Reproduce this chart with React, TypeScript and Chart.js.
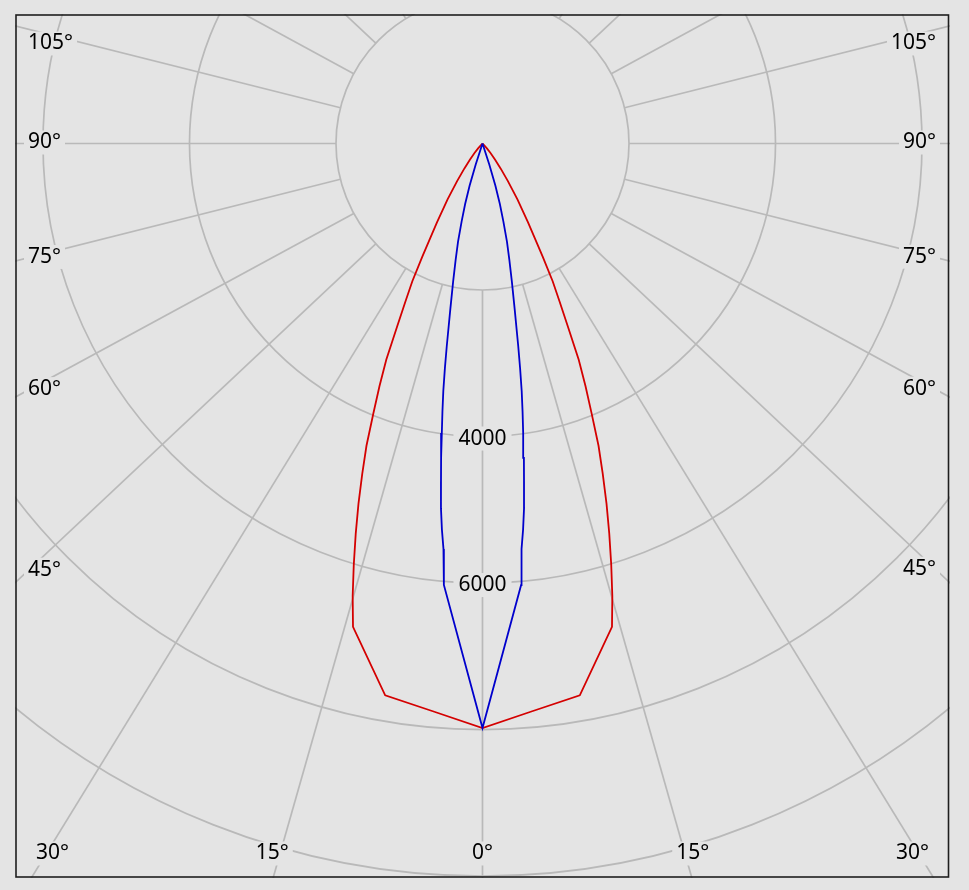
import React, { useEffect, useRef } from "react"
import { Chart, registerables } from "chart.js"

Chart.register(...registerables)

// gamma angle (deg) and intensity (cd) for one half of each symmetric curve
const redAngles = [0, 5, 10, 15, 16, 17, 18, 19, 20, 21, 22, 23, 24, 25, 26, 27, 28, 29, 30, 32, 34, 36, 38, 40, 42, 44, 46]
const redValues = [7980, 7780, 7650, 6830, 6430, 6010, 5600, 5200, 4800, 4420, 3980, 3600, 3230, 2760, 2400, 2110, 1750, 1460, 1240, 900, 620, 420, 280, 170, 90, 30, 0]

const blueAngles = [0, 5, 5.5, 6, 6.5, 7, 7.5, 8, 8.5, 9, 9.5, 10, 11, 12, 13, 14, 15, 16, 17, 18, 19]
const blueValues = [7980, 6050, 5560, 5300, 5010, 4650, 4330, 3990, 3700, 3420, 3110, 2810, 2300, 1930, 1630, 1380, 1100, 860, 600, 300, 0]

const ringValues = [2000, 4000, 6000, 8000, 10000]
const ringLabels = [4000, 6000]
const spokeAngles = [0, 15, 30, 45, 60, 75, 90, 105, 120, 135, 150, 165, 180, 195, 210, 225, 240, 255, 270, 285, 300, 315, 330, 345]
const angleLabels = [0, 15, 30, 45, 60, 75, 90, 105]

const BG = "#e4e4e4"
const GRID = "#b9b9b9"
const TEXT = "#000000"
const RED = "#d40000"
const BLUE = "#0000cc"
const FONT = '21px "Noto Sans", "DejaVu Sans", sans-serif'
// the spokes of the original grid are drawn slightly widened horizontally
const SPOKE_STRETCH = 1.064

const rad = (d: number) => (d * Math.PI) / 180

const toPoints = (angles: number[], values: number[]) => {
  const side = (s: number) =>
    angles.map((g, i) => ({ x: s * values[i] * Math.sin(rad(g)), y: -values[i] * Math.cos(rad(g)) }))
  return [...side(-1).reverse(), ...side(1).slice(1)]
}

const spokeDir = (deg: number) => {
  const dx = Math.sin(rad(deg)) * SPOKE_STRETCH
  const dy = Math.cos(rad(deg))
  const n = Math.hypot(dx, dy)
  return [dx / n, dy / n]
}

const polarGrid = {
  id: "polarGrid",
  beforeDatasetsDraw(chart: any) {
    const { ctx, chartArea: a, scales } = chart
    const cx = scales.x.getPixelForValue(0)
    const cy = scales.y.getPixelForValue(0)
    const radius = (v: number) => scales.x.getPixelForValue(v) - cx

    ctx.save()
    ctx.beginPath()
    ctx.rect(a.left, a.top, a.width, a.height)
    ctx.clip()

    ctx.strokeStyle = GRID
    ctx.lineWidth = 1.7
    ringValues.forEach((v) => {
      ctx.beginPath()
      ctx.arc(cx, cy, radius(v), 0, Math.PI * 2)
      ctx.stroke()
    })
    const r0 = radius(ringValues[0])
    spokeAngles.forEach((deg) => {
      const [dx, dy] = spokeDir(deg)
      ctx.beginPath()
      ctx.moveTo(cx + dx * r0, cy + dy * r0)
      ctx.lineTo(cx + dx * 3000, cy + dy * 3000)
      ctx.stroke()
    })

    ctx.font = FONT
    ctx.textBaseline = "middle"
    ctx.textAlign = "center"
    ringLabels.forEach((v) => {
      const text = String(v)
      const w = ctx.measureText(text).width
      const y = cy + radius(v) + 2
      ctx.fillStyle = BG
      ctx.fillRect(cx - w / 2 - 5, y - 12, w + 10, 24)
      ctx.fillStyle = TEXT
      ctx.fillText(text, cx, y)
    })

    angleLabels.forEach((deg) => {
      const sides = deg === 0 ? [1] : [-1, 1]
      sides.forEach((s) => {
        const [dx, dy] = spokeDir(s * deg)
        const text = `${deg}°`
        const w = ctx.measureText(text).width
        let x: number
        let y: number
        let align: "left" | "right" | "center"
        const xAtBottom = dy > 0 ? cx + (dx / dy) * (a.bottom - cy) : Infinity
        if (xAtBottom >= a.left && xAtBottom <= a.right) {
          y = a.bottom - 24.5
          x = cx + Math.tan(rad(s * deg)) * (y - cy) + Math.sign(s * deg) * 20
          align = "center"
        } else {
          x = s < 0 ? a.left + 13 : a.right - 14
          y = Math.max(a.top + 29.5, cy + (dy / dx) * (x - cx) - 1)
          align = s < 0 ? "left" : "right"
        }
        const left = align === "left" ? x : align === "right" ? x - w : x - w / 2
        ctx.fillStyle = BG
        ctx.fillRect(left - 4, y - 12, w + 8, 24)
        ctx.fillStyle = TEXT
        ctx.textAlign = align
        ctx.fillText(text, x, y)
      })
    })
    ctx.restore()
  },
  afterDraw(chart: any) {
    const { ctx, chartArea: a } = chart
    ctx.save()
    ctx.strokeStyle = "#1e1e1e"
    ctx.lineWidth = 1.6
    ctx.strokeRect(a.left + 1, a.top + 1, a.width - 2.5, a.height - 2)
    ctx.restore()
  },
}

const PolarDiagram: React.FC = () => {
  const chartRef = useRef<HTMLCanvasElement | null>(null)

  useEffect(() => {
    if (!chartRef.current) return
    const chart = new Chart(chartRef.current, {
      type: "scatter",
      data: {
        datasets: [
          {
            data: toPoints(blueAngles, blueValues),
            showLine: true,
            borderColor: BLUE,
            borderWidth: 1.8,
            pointRadius: 0,
            fill: false,
          },
          {
            data: toPoints(redAngles, redValues),
            showLine: true,
            borderColor: RED,
            borderWidth: 1.8,
            pointRadius: 0,
            fill: false,
          },
        ],
      },
      options: {
        animation: false,
        responsive: true,
        maintainAspectRatio: false,
        layout: { padding: 0 },
        plugins: {
          legend: { display: false },
          tooltip: { enabled: false },
        },
        scales: {
          x: { type: "linear", display: false, min: -6382, max: 6382 },
          y: { type: "linear", display: false, min: -10027, max: 1768 },
        },
      },
      plugins: [polarGrid],
    })
    return () => {
      chart.destroy()
    }
  }, [])

  return (
    <div style={{ position: "absolute", left: 15, top: 14, width: 935, height: 864 }}>
      <canvas ref={chartRef} />
    </div>
  )
}

export default function App() {
  return (
    <div style={{ position: "fixed", inset: 0, background: BG }}>
      <PolarDiagram />
    </div>
  )
}
